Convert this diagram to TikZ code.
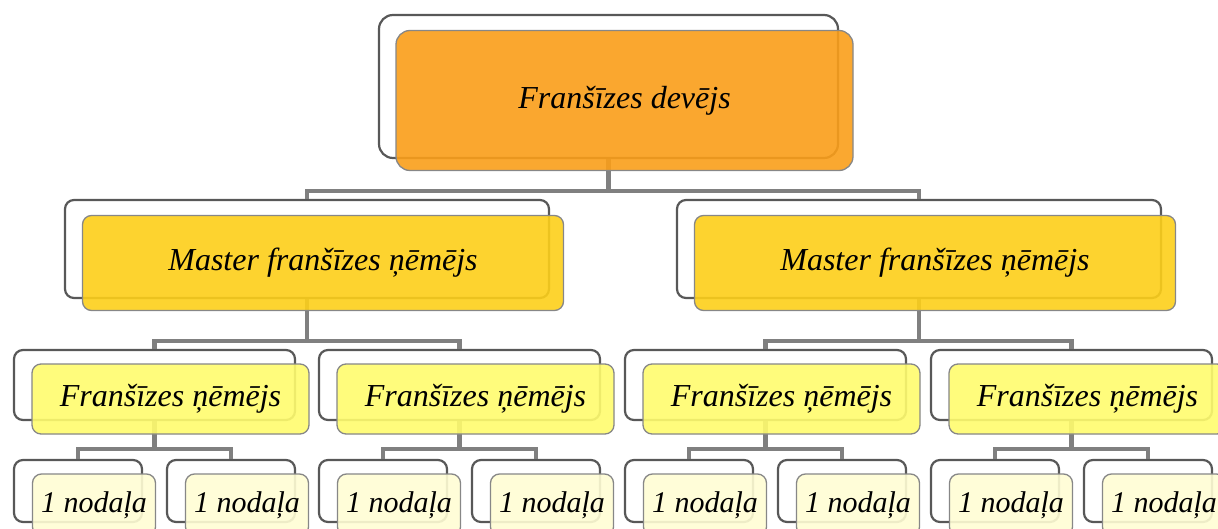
\documentclass[tikz,border=0pt]{standalone}
\usepackage{fontspec}
\setmainfont{Liberation Serif}
\usepackage{xcolor}
\usetikzlibrary{positioning,calc}

\definecolor{linkGray}{RGB}{128,128,128}
\definecolor{backGray}{RGB}{88,88,88}
\definecolor{frontGray}{RGB}{135,135,135}
\definecolor{topOrange}{RGB}{250,158,25}
\definecolor{masterGold}{RGB}{253,207,25}
\definecolor{takerYellow}{RGB}{255,252,110}
\definecolor{unitYellow}{RGB}{255,253,212}

\begin{document}
\begin{tikzpicture}[x=1pt,y=-1pt,
    back node/.style={draw=backGray,line width=2.2pt,fill=white,rounded corners=9pt,inner sep=0pt},
    front node/.style={draw=frontGray,line width=1.3pt,rounded corners=9pt,inner sep=0pt,
        fill opacity=0.9,text opacity=1,xshift=16pt,yshift=-14pt,
        font=\fontsize{32}{38}\selectfont\itshape},
    link/.style={draw=linkGray,line width=4.5pt}]

    \useasboundingbox (0,0) rectangle (1218,529);

    \node[back node,minimum width=459pt,minimum height=143pt,rounded corners=14pt] (top) at (608.5,86.5) {};

    \foreach \curr/\x in {1/307,2/919}{
        \node[back node,minimum width=484pt,minimum height=98pt] (m\curr) at (\x,249) {};
    }

    \foreach \curr/\x in {1/154.5,2/459.5,3/765.5,4/1071.5}{
        \node[back node,minimum width=281pt,minimum height=70pt] (f\curr) at (\x,385) {};
    }

    \foreach \curr/\x in {1/78,2/231,3/383,4/536,5/689,6/842,7/995,8/1148}{
        \node[back node,minimum width=128pt,minimum height=62pt] (n\curr) at (\x,491) {};
    }

    \foreach \curr in {1,2}{
        \draw[link] (top.south) -- ++(0,32) -| (m\curr.north);
    }

    \foreach \curr [
        evaluate = \curr as \prev using {int((\curr+1)/2)},
    ] in {1,...,4}{
        \draw[link] (m\prev.south) -- ++(0,42) -| (f\curr.north);
    }

    \foreach \curr [
        evaluate = \curr as \prev using {int((\curr+1)/2)},
    ] in {1,...,8}{
        \draw[link] (f\prev.south) -- ++(0,28) -| (n\curr.north);
    }

    \node[front node,fill=topOrange,minimum width=457pt,minimum height=140pt,rounded corners=14pt] (topf) at (top) {Franšīzes devējs};

    \foreach \curr in {1,2}{
        \node[front node,fill=masterGold,minimum width=481pt,minimum height=95pt] (m\curr f) at (m\curr) {Master franšīzes ņēmējs};
    }

    \foreach \curr in {1,...,4}{
        \node[front node,fill=takerYellow,minimum width=277pt,minimum height=70pt] (f\curr f) at (f\curr) {Franšīzes ņēmējs};
    }

    \foreach \curr in {1,...,8}{
        \node[front node,fill=unitYellow,minimum width=123pt,minimum height=62pt,
            font=\fontsize{30}{36}\selectfont\itshape] (n\curr f) at (n\curr) {1 nodaļa};
    }

\end{tikzpicture}
\end{document}
